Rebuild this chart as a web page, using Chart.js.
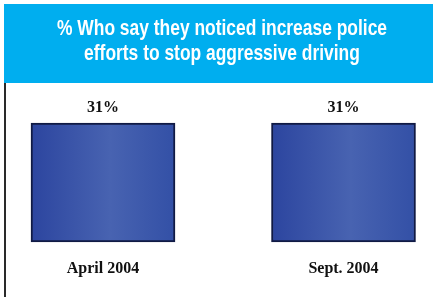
<!DOCTYPE html>
<html>
<head>
<meta charset="utf-8">
<script src="https://cdn.jsdelivr.net/npm/chart.js@4/dist/chart.umd.min.js"></script>
<style>
html,body{margin:0;padding:0;background:#fff;}
canvas{display:block;}
</style>
</head>
<body>
<canvas id="c" width="433" height="297"></canvas>
<script>
const categories = ['April 2004', 'Sept. 2004'];
const values = [31, 31];
const valueLabels = ['31%', '31%'];
const titleLines = ['% Who say they noticed increase police', 'efforts to stop aggressive driving'];

const TITLE_FONT = "'Liberation Sans', Arial, sans-serif";
const TITLE_SIZE = 22;
const TITLE_TARGET_W = 330;
const SERIF = "'Liberation Serif', 'Times New Roman', serif";
const BAR_W = 144;

const framePlugin = {
  id: 'frame',
  beforeDraw(chart) {
    const ctx = chart.ctx;
    ctx.save();
    ctx.fillStyle = '#ffffff';
    ctx.fillRect(0, 0, chart.width, chart.height);
    ctx.fillStyle = '#00aeef';
    ctx.fillRect(4, 4, chart.width - 4, 79);
    ctx.fillStyle = '#2a2a2a';
    ctx.fillRect(4, 83, 2, chart.height - 83);
    ctx.restore();
  }
};

// Condense the title horizontally (the reference uses a condensed face)
const condenseTitlePlugin = {
  id: 'condenseTitle',
  afterLayout(chart) {
    const tb = chart.titleBlock;
    if (!tb || tb._condensed) return;
    const orig = tb.draw.bind(tb);
    tb.draw = function () {
      const ctx = chart.ctx;
      ctx.save();
      ctx.font = 'bold ' + TITLE_SIZE + 'px ' + TITLE_FONT;
      const w = ctx.measureText(titleLines[0]).width;
      ctx.restore();
      const sx = Math.min(1, TITLE_TARGET_W / w);
      const cx = (tb.left + tb.right) / 2;
      ctx.save();
      ctx.translate(cx, 0);
      ctx.scale(sx, 1);
      ctx.translate(-cx, 0);
      orig();
      ctx.restore();
    };
    tb._condensed = true;
  }
};

const valueLabelPlugin = {
  id: 'valueLabels',
  afterDatasetsDraw(chart) {
    const ctx = chart.ctx;
    const meta = chart.getDatasetMeta(0);
    ctx.save();
    ctx.font = 'bold 16px ' + SERIF;
    ctx.fillStyle = '#111111';
    ctx.textAlign = 'center';
    ctx.textBaseline = 'middle';
    meta.data.forEach((bar, i) => {
      ctx.fillText(valueLabels[i], bar.x, bar.y - 15);
    });
    ctx.restore();
  }
};

function barGradient(context) {
  const chart = context.chart;
  const xs = chart.scales && chart.scales.x;
  if (!chart.chartArea || !xs) return '#3c56aa';
  const cx = xs.getPixelForValue(context.dataIndex);
  const g = chart.ctx.createLinearGradient(cx - BAR_W / 2, 0, cx + BAR_W / 2, 0);
  g.addColorStop(0, '#2c459f');
  g.addColorStop(0.55, '#4863b1');
  g.addColorStop(1, '#3350a6');
  return g;
}

const hiddenAxis = (pos, w) => ({
  position: pos,
  display: true,
  min: 0,
  max: 31,
  grid: { display: false, drawTicks: false },
  border: { display: false },
  ticks: { display: false },
  afterFit(scale) { scale.width = w; }
});

new Chart(document.getElementById('c'), {
  type: 'bar',
  data: {
    labels: categories,
    datasets: [{
      data: values,
      backgroundColor: barGradient,
      borderColor: '#101a44',
      borderWidth: 2,
      borderSkipped: false,
      barThickness: BAR_W,
      clip: false,
      yAxisID: 'y'
    }]
  },
  options: {
    responsive: false,
    animation: false,
    devicePixelRatio: 1,
    layout: { padding: { left: 11, right: 0, top: 0, bottom: 2 } },
    plugins: {
      legend: { display: false },
      tooltip: { enabled: false },
      title: {
        display: true,
        text: titleLines,
        color: '#ffffff',
        font: { family: TITLE_FONT, size: TITLE_SIZE, weight: 'bold', lineHeight: 1.15 },
        padding: { top: 16.3, bottom: 56.1 }
      }
    },
    scales: {
      x: {
        offset: false,
        grid: { display: false, drawTicks: false },
        border: { display: false },
        ticks: {
          color: '#111111',
          font: { family: SERIF, size: 16, weight: 'bold', lineHeight: 1.2 },
          padding: 17,
          maxRotation: 0,
          autoSkip: false
        }
      },
      y: hiddenAxis('left', 92),
      y2: hiddenAxis('right', 89.5)
    }
  },
  plugins: [framePlugin, condenseTitlePlugin, valueLabelPlugin]
});
</script>
</body>
</html>
